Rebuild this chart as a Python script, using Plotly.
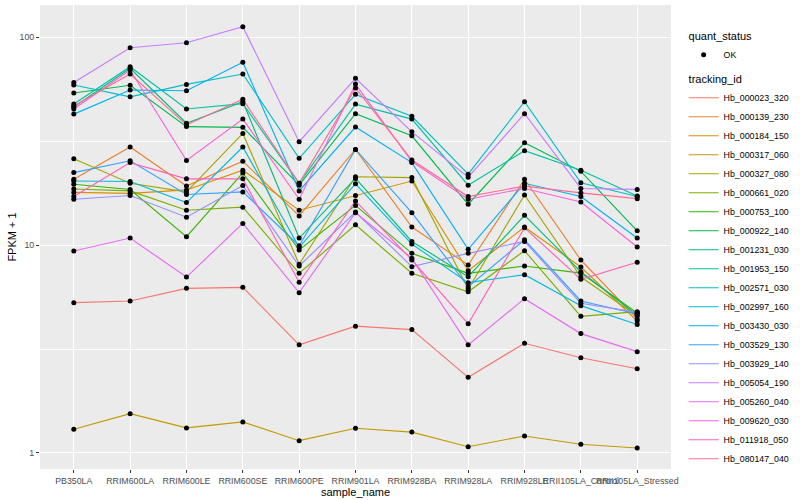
import plotly.graph_objects as go

samples = ["PB350LA", "RRIM600LA", "RRIM600LE", "RRIM600SE", "RRIM600PE", "RRIM901LA",
           "RRIM928BA", "RRIM928LA", "RRIM928LE", "RRII105LA_Control", "RRII105LA_Stressed"]

tracking_ids = ["Hb_000023_320", "Hb_000139_230", "Hb_000184_150", "Hb_000317_060", "Hb_000327_080",
                "Hb_000661_020", "Hb_000753_100", "Hb_000922_140", "Hb_001231_030", "Hb_001953_150",
                "Hb_002571_030", "Hb_002997_160", "Hb_003430_030", "Hb_003529_130", "Hb_003929_140",
                "Hb_005054_190", "Hb_005260_040", "Hb_009620_030", "Hb_011918_050", "Hb_080147_040"]

# FPKM + 1 values, one list per tracking_id (order = samples)
hb_000023_320 = [5.28, 5.38, 6.19, 6.26, 3.31, 4.07, 3.92, 2.31, 3.37, 2.87, 2.54]
hb_000139_230 = [20.7, 29.6, 19.2, 25.3, 13.8, 28.8, 12.2, 8.01, 20.7, 8.47, 4.41]
hb_000184_150 = [17.9, 17.7, 18.4, 22.9, 14.7, 17.3, 20.3, 7.52, 12.2, 7.84, 4.31]
hb_000317_060 = [1.30, 1.545, 1.32, 1.41, 1.146, 1.315, 1.26, 1.072, 1.207, 1.101, 1.057]
hb_000327_080 = [26.0, 19.8, 18.0, 34.4, 8.08, 21.3, 21.1, 6.14, 17.4, 7.02, 4.56]
hb_000661_020 = [18.6, 18.2, 14.7, 15.2, 7.31, 12.5, 7.31, 5.96, 9.39, 4.54, 4.78]
hb_000753_100 = [19.6, 18.5, 10.96, 22.2, 9.46, 15.5, 9.12, 7.31, 7.93, 7.33, 4.71]
hb_000922_140 = [53.8, 58.6, 37.1, 36.8, 19.4, 42.8, 33.5, 15.7, 31.0, 22.6, 11.7]
hb_001231_030 = [46.1, 70.7, 38.5, 48.9, 10.8, 20.9, 10.4, 7.04, 13.9, 7.44, 4.61]
hb_001953_150 = [47.6, 72.0, 45.1, 47.8, 19.8, 47.6, 40.3, 19.4, 28.4, 22.9, 17.2]
hb_002571_030 = [58.8, 51.6, 59.2, 66.4, 26.1, 53.0, 41.6, 21.9, 48.9, 19.9, 17.1]
hb_002997_160 = [20.3, 20.2, 16.0, 29.6, 9.75, 19.7, 10.1, 6.59, 7.20, 5.11, 4.15]
hb_003430_030 = [42.6, 55.6, 55.2, 75.6, 18.2, 36.9, 24.9, 9.54, 19.8, 17.1, 10.8]
hb_003529_130 = [22.3, 25.4, 17.5, 18.0, 9.92, 28.8, 14.3, 6.30, 10.6, 5.38, 4.66]
hb_003929_140 = [16.6, 17.3, 13.6, 19.3, 7.93, 14.4, 7.87, 9.12, 10.4, 5.25, 4.74]
hb_005054_190 = [60.4, 88.8, 93.9, 112.1, 31.4, 63.3, 35.0, 21.2, 42.8, 18.7, 18.5]
hb_005260_040 = [9.36, 10.8, 7.01, 12.7, 5.90, 14.3, 8.63, 3.31, 5.52, 3.75, 3.07]
hb_009620_030 = [45.1, 69.4, 25.5, 40.3, 16.6, 59.4, 25.2, 16.6, 18.7, 16.1, 9.78]
hb_011918_050 = [17.1, 24.9, 20.8, 20.8, 6.62, 16.3, 8.47, 4.18, 12.1, 6.84, 8.26]
hb_080147_040 = [46.6, 66.4, 37.8, 50.2, 19.8, 56.9, 25.6, 17.1, 19.2, 17.8, 16.7]

series = [hb_000023_320, hb_000139_230, hb_000184_150, hb_000317_060, hb_000327_080,
          hb_000661_020, hb_000753_100, hb_000922_140, hb_001231_030, hb_001953_150,
          hb_002571_030, hb_002997_160, hb_003430_030, hb_003529_130, hb_003929_140,
          hb_005054_190, hb_005260_040, hb_009620_030, hb_011918_050, hb_080147_040]

colors = ["#F8766D", "#EA8331", "#D89000", "#C09B00", "#A3A500", "#7CAE00", "#39B600",
          "#00BB4E", "#00BF7D", "#00C1A3", "#00BFC4", "#00BAE0", "#00B0F6", "#35A2FF",
          "#9590FF", "#C77CFF", "#E76BF3", "#FA62DB", "#FF62BC", "#FF6C91"]

FONT = "Liberation Sans, Arial, Helvetica, sans-serif"

fig = go.Figure()

for i, (tid, vals) in enumerate(zip(tracking_ids, series)):
    fig.add_trace(go.Scatter(
        x=samples, y=vals, mode="lines", name=tid,
        line=dict(color=colors[i], width=1.15),
        legendgroup="tracking", legendrank=10 + i,
        legendgrouptitle=dict(text="tracking_id", font=dict(size=11, color="black")),
        hoverinfo="skip",
    ))

all_x = [s for vals in series for s in samples]
all_y = [v for vals in series for v in vals]
fig.add_trace(go.Scatter(
    x=all_x, y=all_y, mode="markers", name="OK",
    marker=dict(color="black", size=5),
    legendgroup="quant", legendrank=1,
    legendgrouptitle=dict(text="quant_status", font=dict(size=11, color="black")),
))

fig.update_layout(
    width=800, height=500,
    margin=dict(l=40, r=116, t=5, b=31),
    paper_bgcolor="white", plot_bgcolor="#EBEBEB",
    font=dict(family=FONT, color="black", size=11),
    legend=dict(x=1.02, y=0.965, xanchor="left", yanchor="top",
                font=dict(size=8.8, color="black"), bgcolor="rgba(0,0,0,0)",
                tracegroupgap=5, traceorder="grouped", itemwidth=30),
    xaxis=dict(
        type="category", categoryorder="array", categoryarray=samples,
        range=[-0.6, 10.6], showgrid=True, gridcolor="white", gridwidth=1.1,
        zeroline=False, showline=False, ticks="outside", ticklen=3,
        tickcolor="#333333", tickwidth=1, tickangle=0,
        tickfont=dict(size=8.8, color="#4D4D4D"),
        title=dict(text="sample_name", font=dict(size=11), standoff=0),
        automargin=False,
    ),
    yaxis=dict(
        type="log", range=[-0.077, 2.154],
        tickvals=[1, 10, 100], ticktext=["1", "10", "100"],
        showgrid=True, gridcolor="white", gridwidth=1.1,
        minor=dict(tickvals=[3.162, 31.62], showgrid=True, gridcolor="white", gridwidth=0.5, ticks=""),
        zeroline=False, showline=False, ticks="outside", ticklen=3,
        tickcolor="#333333", tickwidth=1,
        tickfont=dict(size=8.8, color="#4D4D4D"),
        title=dict(text="FPKM + 1", font=dict(size=11), standoff=0),
        automargin=False,
    ),
)

fig.write_html("out.html", config={"displayModeBar": False},
               post_script="document.body.style.margin='0';document.body.style.padding='0';")
